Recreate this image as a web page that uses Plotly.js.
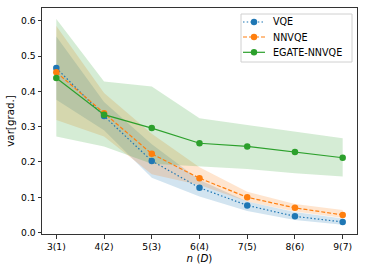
<!DOCTYPE html>
<html>
<head>
<meta charset="utf-8">
<script src="https://cdn.plot.ly/plotly-3.0.1.min.js"></script>
<style>html,body{margin:0;padding:0;background:#fff;}#chart{width:365px;height:265px;}</style>
</head>
<body>
<div id="chart"></div>
<script>
const categories = ["3(1)", "4(2)", "5(3)", "6(4)", "7(5)", "8(6)", "9(7)"];

const vqeMean  = [0.466, 0.330, 0.203, 0.127, 0.077, 0.046, 0.030];
const vqeUpper = [0.555, 0.370, 0.250, 0.149, 0.088, 0.058, 0.040];
const vqeLower = [0.376, 0.290, 0.155, 0.102, 0.061, 0.036, 0.022];

const nnMean  = [0.454, 0.338, 0.223, 0.154, 0.100, 0.070, 0.050];
const nnUpper = [0.585, 0.395, 0.280, 0.185, 0.116, 0.081, 0.064];
const nnLower = [0.319, 0.272, 0.165, 0.135, 0.088, 0.060, 0.041];

const egMean  = [0.438, 0.334, 0.296, 0.253, 0.244, 0.228, 0.212];
const egUpper = [0.605, 0.428, 0.414, 0.324, 0.305, 0.286, 0.267];
const egLower = [0.272, 0.244, 0.195, 0.187, 0.180, 0.168, 0.159];

const names = ["VQE", "NNVQE", "EGATE-NNVQE"];
const colors = ["#1f77b4", "#ff7f0e", "#2ca02c"];
const fills = ["rgba(31,119,180,0.2)", "rgba(255,127,14,0.2)", "rgba(44,160,44,0.2)"];
const dashes = ["1.5px,2.2px", "4px,2px", "solid"];
const means = [vqeMean, nnMean, egMean];
const uppers = [vqeUpper, nnUpper, egUpper];
const lowers = [vqeLower, nnLower, egLower];

const xIdx = categories.map((c, i) => i);
const traces = [];
for (let s = 0; s < 3; s++) {
  traces.push({x: xIdx, y: uppers[s], mode: "lines", line: {width: 0, color: fills[s]},
    showlegend: false, hoverinfo: "skip"});
  traces.push({x: xIdx, y: lowers[s], mode: "lines", line: {width: 0, color: fills[s]},
    fill: "tonexty", fillcolor: fills[s], showlegend: false, hoverinfo: "skip"});
}
for (let s = 0; s < 3; s++) {
  traces.push({x: xIdx, y: means[s], name: names[s], mode: "lines+markers",
    line: {color: colors[s], width: 1.2, dash: dashes[s]},
    marker: {color: colors[s], size: 6.5}, showlegend: false});
}

// Compact matplotlib-style legend (paper coordinates)
const W = 315, H = 226;
const px = v => (v - 42) / W;
const py = v => (234 - v) / H;
const shapes = [{type: "rect", xref: "paper", yref: "paper",
  x0: px(241), x1: px(352), y0: py(62), y1: py(14),
  line: {color: "#d0d0d0", width: 1}, fillcolor: "rgba(255,255,255,0.8)", layer: "above"}];
const annotations = [];
const rowY = [22, 37, 52.3];
for (let s = 0; s < 3; s++) {
  shapes.push({type: "line", xref: "paper", yref: "paper",
    x0: px(243), x1: px(265), y0: py(rowY[s]), y1: py(rowY[s]),
    line: {color: colors[s], width: 1.2, dash: dashes[s]}, layer: "above"});
  shapes.push({type: "circle", xref: "paper", yref: "paper",
    xsizemode: "pixel", ysizemode: "pixel", xanchor: px(254), yanchor: py(rowY[s]),
    x0: -3.2, x1: 3.2, y0: -3.2, y1: 3.2,
    line: {width: 0}, fillcolor: colors[s], layer: "above"});
  annotations.push({xref: "paper", yref: "paper", x: px(271), y: py(rowY[s]),
    xanchor: "left", yanchor: "middle", text: names[s], showarrow: false,
    font: {family: "DejaVu Sans", size: 9.6, color: "#000"}});
}

const tickFont = {family: "DejaVu Sans", size: 9.2, color: "#000"};
const titleFont = {family: "DejaVu Sans", size: 10.3, color: "#000"};
const layout = {
  width: 365, height: 265,
  margin: {l: 42, r: 8, t: 8, b: 31},
  paper_bgcolor: "#fff", plot_bgcolor: "#fff",
  showlegend: false,
  shapes: shapes,
  annotations: annotations,
  xaxis: {
    range: [-0.3, 6.3], tickmode: "array", tickvals: xIdx, ticktext: categories,
    showgrid: false, zeroline: false, showline: true, mirror: true,
    linecolor: "#333", linewidth: 1, ticks: "outside", ticklen: 3.5, tickcolor: "#333",
    tickfont: tickFont,
    title: {text: "<i>n</i> (<i>D</i>)", font: titleFont, standoff: 2}
  },
  yaxis: {
    range: [-0.004, 0.636], tickmode: "array",
    tickvals: [0, 0.1, 0.2, 0.3, 0.4, 0.5, 0.6],
    ticktext: ["0.0", "0.1", "0.2", "0.3", "0.4", "0.5", "0.6"],
    showgrid: false, zeroline: false, showline: true, mirror: true,
    linecolor: "#333", linewidth: 1, ticks: "outside", ticklen: 3.5, tickcolor: "#333",
    tickfont: tickFont,
    title: {text: "var[grad.]", font: titleFont, standoff: 4}
  }
};
Plotly.newPlot("chart", traces, layout, {staticPlot: true, displayModeBar: false});
</script>
</body>
</html>
